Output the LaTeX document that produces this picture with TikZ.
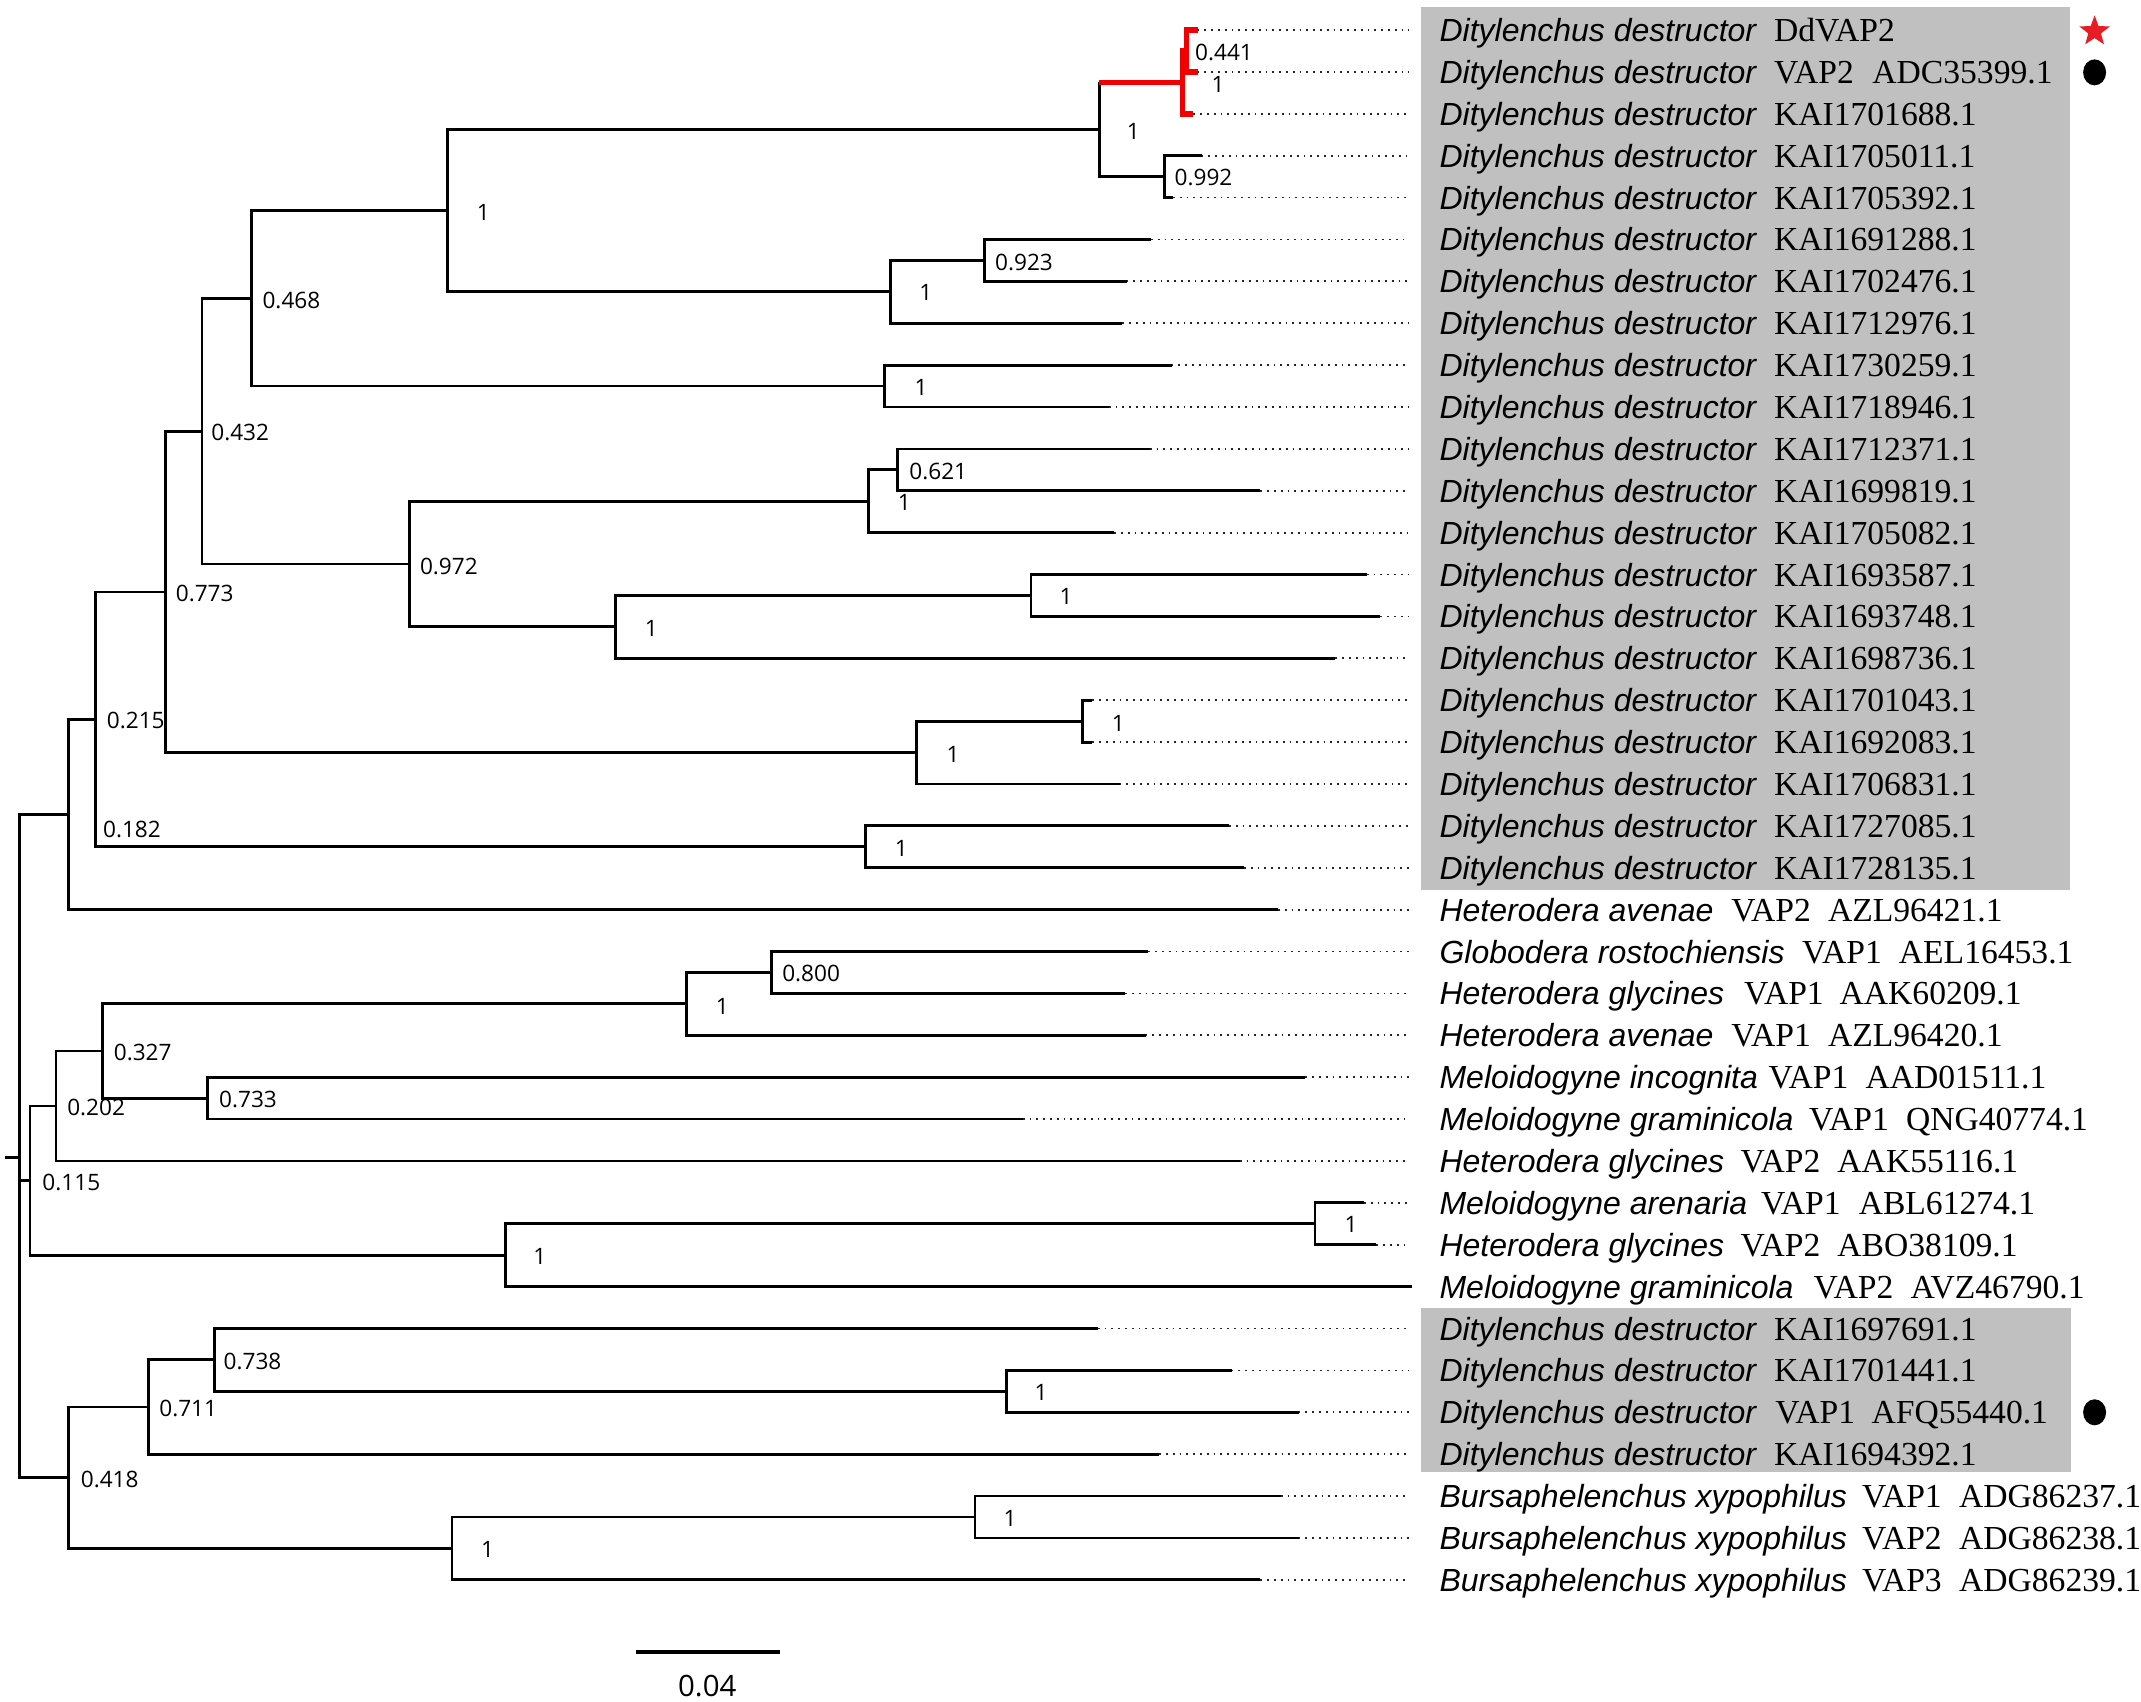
\documentclass[tikz,border=0pt]{standalone}
\usepackage{fontspec}
\setmainfont{Liberation Serif}
\newfontfamily\spfont{Liberation Sans}
\newfontfamily\numfont{Open Sans}
\usetikzlibrary{shapes.geometric}
\definecolor{boxgray}{RGB}{192,192,192}
\definecolor{cladered}{RGB}{240,0,0}
\definecolor{starred}{RGB}{232,28,36}
\newcommand\tipone[4]{%
  \node[sptext] (sp#1) at (1054,{30.4+30.676*#1}) {#2};
  \node[actext] (ac#1) at (#3,{30.4+30.676*#1}) {#4};}
\newcommand\tiptwo[6]{%
  \tipone{#1}{#2}{#3}{#4}%
  \node[actext] (ad#1) at (#5,{30.4+30.676*#1}) {#6};}
\begin{document}
\begin{tikzpicture}[x=0.6827pt,y=-0.6827pt,
  branch/.style={line width=1.4pt},
  redbranch/.style={line width=2.8pt, cladered},
  dotline/.style={line width=0.9pt, dash pattern=on 0.9pt off 2.5pt, black!85},
  sptext/.style={anchor=base west, inner sep=0pt, font=\spfont\itshape\fontsize{16}{16}\selectfont},
  actext/.style={anchor=base west, inner sep=0pt, font=\fontsize{16.8}{17}\selectfont},
  lbl/.style={anchor=west, inner sep=0pt, font=\numfont\fontsize{11.3}{12}\selectfont},
  greybox/.style={fill=boxgray, draw=none}]
\useasboundingbox (0,0) rectangle (1568,1246);
\fill[white] (0,0) rectangle (1568,1246);

% grey boxes
\path[greybox] (1041,5) rectangle (1516,652);
\path[greybox] (1041,958) rectangle (1517,1078);

% leaf tips and dotted ends
\foreach \i/\xe in {0/877,1/877,2/874,3/880,4/859,5/843,6/825,7/822,8/858,9/812,10/842,11/923,12/816,13/1001,14/1011,15/978,16/800,17/800,18/820,19/900,20/911,21/936,22/841,23/824,24/839,25/956,26/749,27/908,28/999,29/1008,30/1034,31/804,32/902,33/951,34/849,35/938,36/951,37/923}
  {\coordinate (l\i) at (\xe,{22+30.676*\i});
   \coordinate (d\i) at (1032,{22+30.676*\i});}
\foreach \i in {0,...,29,31,32,...,37}
  {\draw[dotline] (l\i) -- (d\i);}

% internal nodes
\coordinate (n01) at (869,37.35);
\coordinate (nR) at (866,60.4);
\coordinate (n34) at (853,129.35);
\coordinate (nA1) at (805,94.9);
\coordinate (n56) at (721,190.75);
\coordinate (n567) at (652,213.7);
\coordinate (nB) at (328,154.3);
\coordinate (n89) at (648,282.75);
\coordinate (nC) at (184,218.5);
\coordinate (n1011) at (657,344.1);
\coordinate (nG) at (636,367.1);
\coordinate (n1314) at (755,436.15);
\coordinate (nI) at (451,459.1);
\coordinate (nF) at (300,413.1);
\coordinate (nD) at (148,315.8);
\coordinate (n1617) at (793,528.15);
\coordinate (nK) at (671,551.2);
\coordinate (nE) at (121,433.5);
\coordinate (nN) at (634,620.15);
\coordinate (nM) at (70,526.8);
\coordinate (nA) at (50,596.5);
\coordinate (nT) at (565,712.2);
\coordinate (nU) at (503,735.2);
\coordinate (nV) at (152,804.25);
\coordinate (nW) at (75,769.7);
\coordinate (nR2) at (41,809.95);
\coordinate (nX) at (963,896.25);
\coordinate (nY) at (370,919.3);
\coordinate (nP) at (22,864.6);
\coordinate (nAA) at (737,1018.95);
\coordinate (nZ) at (157,995.9);
\coordinate (nQ1) at (108.6,1030.45);
\coordinate (nBB) at (714,1110.95);
\coordinate (nCC) at (331,1134);
\coordinate (nQ) at (50,1082.2);
\coordinate (root) at (14,847.8);
\coordinate (rootstub) at (4,847.8);

% branches
\draw[branch] (l3) -| (n34) |- (l4);
\draw[branch] (nR -| nA1) |- (n34);
\draw[redbranch] (nR -| nA1) -- (nR);
\draw[redbranch] (n01) -| (nR) |- (l2);
\draw[redbranch] (l0) -| (n01) |- (l1);
\draw[branch] (l5) -| (n56) |- (l6);
\draw[branch] (n56) -| (n567) |- (l7);
\draw[branch] (nA1) -| (nB) |- (n567);
\draw[branch] (l8) -| (n89) |- (l9);
\draw[branch] (nB) -| (nC) |- (n89);
\draw[branch] (l10) -| (n1011) |- (l11);
\draw[branch] (n1011) -| (nG) |- (l12);
\draw[branch] (l13) -| (n1314) |- (l14);
\draw[branch] (n1314) -| (nI) |- (l15);
\draw[branch] (nG) -| (nF) |- (nI);
\draw[branch] (nC) -| (nD) |- (nF);
\draw[branch] (l16) -| (n1617) |- (l17);
\draw[branch] (n1617) -| (nK) |- (l18);
\draw[branch] (nD) -| (nE) |- (nK);
\draw[branch] (l19) -| (nN) |- (l20);
\draw[branch] (nE) -| (nM) |- (nN);
\draw[branch] (nM) -| (nA) |- (l21);
\draw[branch] (l22) -| (nT) |- (l23);
\draw[branch] (nT) -| (nU) |- (l24);
\draw[branch] (l25) -| (nV) |- (l26);
\draw[branch] (nU) -| (nW) |- (nV);
\draw[branch] (nW) -| (nR2) |- (l27);
\draw[branch] (l28) -| (nX) |- (l29);
\draw[branch] (nX) -| (nY) |- (l30);
\draw[branch] (nR2) -| (nP) |- (nY);
\draw[branch] (l32) -| (nAA) |- (l33);
\draw[branch] (l31) -| (nZ) |- (nAA);
\draw[branch] (nZ) -| (nQ1) |- (l34);
\draw[branch] (l35) -| (nBB) |- (l36);
\draw[branch] (nBB) -| (nCC) |- (l37);
\draw[branch] (nQ1) -| (nQ) |- (nCC);
\draw[branch] (nA) -| (root) |- (nQ);
\draw[branch] (root) |- (nP);
\draw[branch] (rootstub) -- (root);

% support labels
\node[lbl] (b1) at (875,38.7) {0.441};
\node[lbl] (b2) at (887,61.6) {1};
\node[lbl] (b3) at (825,96.2) {1};
\node[lbl] (b4) at (860,130) {0.992};
\node[lbl] (b5) at (728.5,192) {0.923};
\node[lbl] (b6) at (673,214.4) {1};
\node[lbl] (b7) at (349,155.5) {1};
\node[lbl] (b8) at (192,220) {0.468};
\node[lbl] (b9) at (669.6,283.5) {1};
\node[lbl] (b10) at (154.5,317) {0.432};
\node[lbl] (b11) at (665.7,345) {0.621};
\node[lbl] (b12) at (657.2,368.2) {1};
\node[lbl] (b13) at (307.3,414.5) {0.972};
\node[lbl] (b14) at (775.8,437) {1};
\node[lbl] (b15) at (472,460.5) {1};
\node[lbl] (b16) at (128.5,434.5) {0.773};
\node[lbl] (b17) at (814,529.5) {1};
\node[lbl] (b18) at (693,552.5) {1};
\node[lbl] (b19) at (78,527.5) {0.215};
\node[lbl] (b20) at (655,621.5) {1};
\node[lbl] (b21) at (75.2,607.5) {0.182};
\node[lbl] (b22) at (572.6,713) {0.800};
\node[lbl] (b23) at (524,737) {1};
\node[lbl] (b24) at (83.1,771) {0.327};
\node[lbl] (b25) at (160.2,805.5) {0.733};
\node[lbl] (b26) at (49,811) {0.202};
\node[lbl] (b27) at (30.8,866) {0.115};
\node[lbl] (b28) at (984.5,897) {1};
\node[lbl] (b29) at (390.4,920) {1};
\node[lbl] (b30) at (163.5,997) {0.738};
\node[lbl] (b31) at (757.5,1020) {1};
\node[lbl] (b32) at (116.4,1031.5) {0.711};
\node[lbl] (b33) at (58.9,1083.5) {0.418};
\node[lbl] (b34) at (734.7,1112) {1};
\node[lbl] (b35) at (352,1135) {1};

% tip labels
\tipone{0}{Ditylenchus destructor}{1299}{DdVAP2}
\tiptwo{1}{Ditylenchus destructor}{1299}{VAP2}{1371}{ADC35399.1}
\tipone{2}{Ditylenchus destructor}{1299}{KAI1701688.1}
\tipone{3}{Ditylenchus destructor}{1299}{KAI1705011.1}
\tipone{4}{Ditylenchus destructor}{1299}{KAI1705392.1}
\tipone{5}{Ditylenchus destructor}{1299}{KAI1691288.1}
\tipone{6}{Ditylenchus destructor}{1299}{KAI1702476.1}
\tipone{7}{Ditylenchus destructor}{1299}{KAI1712976.1}
\tipone{8}{Ditylenchus destructor}{1299}{KAI1730259.1}
\tipone{9}{Ditylenchus destructor}{1299}{KAI1718946.1}
\tipone{10}{Ditylenchus destructor}{1299}{KAI1712371.1}
\tipone{11}{Ditylenchus destructor}{1299}{KAI1699819.1}
\tipone{12}{Ditylenchus destructor}{1299}{KAI1705082.1}
\tipone{13}{Ditylenchus destructor}{1299}{KAI1693587.1}
\tipone{14}{Ditylenchus destructor}{1299}{KAI1693748.1}
\tipone{15}{Ditylenchus destructor}{1299}{KAI1698736.1}
\tipone{16}{Ditylenchus destructor}{1299}{KAI1701043.1}
\tipone{17}{Ditylenchus destructor}{1299}{KAI1692083.1}
\tipone{18}{Ditylenchus destructor}{1299}{KAI1706831.1}
\tipone{19}{Ditylenchus destructor}{1299}{KAI1727085.1}
\tipone{20}{Ditylenchus destructor}{1299}{KAI1728135.1}
\tiptwo{21}{Heterodera avenae}{1267.6}{VAP2}{1338.5}{AZL96421.1}
\tiptwo{22}{Globodera rostochiensis}{1319.5}{VAP1}{1390.4}{AEL16453.1}
\tiptwo{23}{Heterodera glycines}{1277}{VAP1}{1347}{AAK60209.1}
\tiptwo{24}{Heterodera avenae}{1267.6}{VAP1}{1338.5}{AZL96420.1}
\tiptwo{25}{Meloidogyne incognita}{1295}{VAP1}{1366}{AAD01511.1}
\tiptwo{26}{Meloidogyne graminicola}{1324.7}{VAP1}{1395.6}{QNG40774.1}
\tiptwo{27}{Heterodera glycines}{1274.5}{VAP2}{1345.4}{AAK55116.1}
\tiptwo{28}{Meloidogyne arenaria}{1289.4}{VAP1}{1361}{ABL61274.1}
\tiptwo{29}{Heterodera glycines}{1274.5}{VAP2}{1345.4}{ABO38109.1}
\tiptwo{30}{Meloidogyne graminicola}{1328}{VAP2}{1399}{AVZ46790.1}
\tipone{31}{Ditylenchus destructor}{1299}{KAI1697691.1}
\tipone{32}{Ditylenchus destructor}{1299}{KAI1701441.1}
\tiptwo{33}{Ditylenchus destructor}{1300}{VAP1}{1370.4}{AFQ55440.1}
\tipone{34}{Ditylenchus destructor}{1299}{KAI1694392.1}
\tiptwo{35}{Bursaphelenchus xypophilus}{1363.4}{VAP1}{1434.5}{ADG86237.1}
\tiptwo{36}{Bursaphelenchus xypophilus}{1363.4}{VAP2}{1434.5}{ADG86238.1}
\tiptwo{37}{Bursaphelenchus xypophilus}{1363.4}{VAP3}{1434.5}{ADG86239.1}

% markers
\node[star, star points=5, star point ratio=2.4, fill=starred, inner sep=0pt, minimum size=16pt] (mstar) at (1534,23) {};
\node[ellipse, fill=black, inner sep=0pt, minimum width=11.5pt, minimum height=13pt] (mdot1) at (1534,53) {};
\node[ellipse, fill=black, inner sep=0pt, minimum width=11.5pt, minimum height=13pt] (mdot2) at (1534,1034.3) {};

% scale bar
\coordinate (sb1) at (466,1210);
\coordinate (sb2) at (571,1210);
\draw[line width=1.8pt] (sb1) -- (sb2);
\node[font=\numfont\fontsize{14.7}{15}\selectfont, inner sep=0pt] (sblab) at (518,1235) {0.04};
\end{tikzpicture}
\end{document}
